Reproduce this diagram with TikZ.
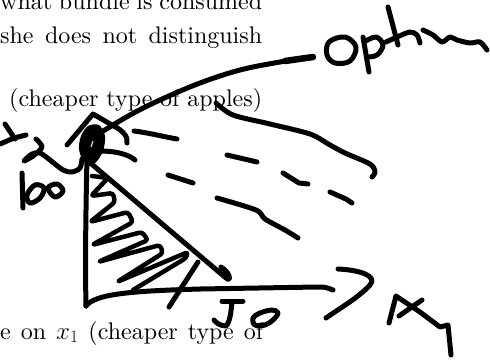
\documentclass[tikz,border=0pt]{standalone}
\font\bigrm="[lmroman10-regular.otf]" at 24pt
\begin{document}
\begin{tikzpicture}[x=1pt,y=-1pt,
  ink/.style={line width=5pt,line cap=round,line join=round},
  txt/.style={inner sep=0pt,anchor=base west,font=\fontsize{24}{29}\selectfont\bigrm}]
\useasboundingbox (0,0) rectangle (490,360);
\clip (0,0) rectangle (490,360);
\fill[white] (0,0) rectangle (490,360);
% text
\node[txt] (l1) at (0,9) {\makebox[262pt][s]{what bundle is consumed}};
\node[txt] (l2) at (0,43) {\makebox[262pt][s]{she does not distinguish}};
\node[txt] (l3) at (9,106) {\makebox[253pt][s]{(cheaper type of apples)}};
\node[txt] (l4) at (0,339) {\makebox[263pt][s]{e on $x_1$ (cheaper type of}};
% pointer curve to "optm"
\draw[ink] plot[smooth,tension=0.6] coordinates {(100,133) (130,115) (160,100) (200,83) (240,70) (280,62) (313,57)};
\draw[line width=6.5pt,line cap=round] (285,61) -- (313,57);
% blob
\fill plot[smooth cycle] coordinates {(88,126) (99,125) (105,136) (103,151) (95,163) (84,162) (79,149) (81,136)};
\draw[white,line width=1pt] (91,147) -- (93,141);
% caret hook
\draw[ink] (67,145) -- (93,114) -- (112,125) .. controls (124,131) and (128,137) .. (127,143);
\draw[ink] (100,151) .. controls (115,151) and (128,154) .. (135,160);
% dashes
\draw[ink] (134,131) .. controls (150,133) and (165,137) .. (177,139);
\draw[ink] (227,155) -- (257,162);
\draw[ink] (283,173) -- (299,183) -- (308,184);
\draw[ink] (330,192) -- (346,199) -- (352,203);
\draw[ink] (168,175) -- (193,183);
\draw[ink] plot[smooth,tension=0.5] coordinates {(217,198) (256,210) (265,219) (285,230) (298,238)};
% long wavy stroke
\draw[ink] plot[smooth,tension=0.5] coordinates {(216,103) (233,115) (270,124) (310,134) (330,145) (345,153) (370,164) (375,172) (372,177)};
% axes
\draw[ink] (87,158) .. controls (86,200) and (85,260) .. (86,306);
\draw[ink] (86,306) .. controls (95,294) and (130,291) .. (200,289) -- (317,287) .. controls (325,287) .. (333,290);
% budget line
\draw[ink] (88,161) -- (226,278) .. controls (232,283) and (230,272) .. (221,267);
% hatch zigzag
\draw[ink,line width=4.5pt,rounded corners=3pt] (92,176) -- (108,178) -- (91,196) -- (113,193) -- (115,202) -- (90,222) -- (128,212) -- (133,222) -- (92,245) -- (142,232) -- (148,240) -- (98,262) -- (160,245) -- (163,253) -- (117,282) -- (188,252) -- (186,258) -- (133,290);
\draw[ink] (198,262) -- (169,307);
% arrowhead of x axis
\draw[ink] (338,269) .. controls (360,270) and (378,276) .. (370,285) .. controls (358,298) and (340,308) .. (326,318);
% x_1
\draw[ink] (389,323) -- (396,296) -- (420,312) -- (440,327) -- (448,325) -- (451,355);
\draw[ink] (422,300) -- (399,316);
% 50
\draw[ink] (222,301) -- (243,301);
\draw[ink] (232,302) .. controls (231,312) and (230,322) .. (226,326) .. controls (221,326) and (216,323) .. (214,320);
\draw[ink] plot[smooth cycle,tension=0.6] coordinates {(253,318) (260,313) (272,310) (278,313) (273,320) (265,325) (255,325)};
% x_2
\draw[ink] (5,124) -- (15,139);
\draw[ink] (0,144) -- (14,138) -- (26,135);
\draw[ink] plot[smooth,tension=0.5] coordinates {(36,139) (42,147) (33,156) (24,161) (32,154) (40,153) (50,160) (63,170) (72,172) (80,168) (82,159)};
% 500
\draw[ink] (22,173) -- (23,208);
\draw[ink] plot[smooth cycle,tension=0.6] coordinates {(27,195) (35,185) (44,188) (40,198) (30,203)};
\draw[ink] plot[smooth cycle,tension=0.6] coordinates {(48,188) (57,184) (63,191) (55,197)};
% optm
\draw[ink] plot[smooth cycle,tension=0.6] coordinates {(329,42) (345,37) (356,47) (350,61) (335,63) (327,55)};
\draw[ink] (363,37) -- (369,72);
\draw[ink] plot[smooth,tension=0.6] coordinates {(364,42) (376,37) (383,45) (377,55) (367,57)};
\draw[ink] (388,7) -- (398,45);
\draw[ink] plot[smooth,tension=0.5] coordinates {(386,42) (397,37) (410,32) (417,35) (420,43)};
\draw[ink] plot[smooth,tension=0.5] coordinates {(423,30) (433,35) (442,42) (450,37) (457,40) (470,43) (480,42) (487,50)};
\end{tikzpicture}
\end{document}
